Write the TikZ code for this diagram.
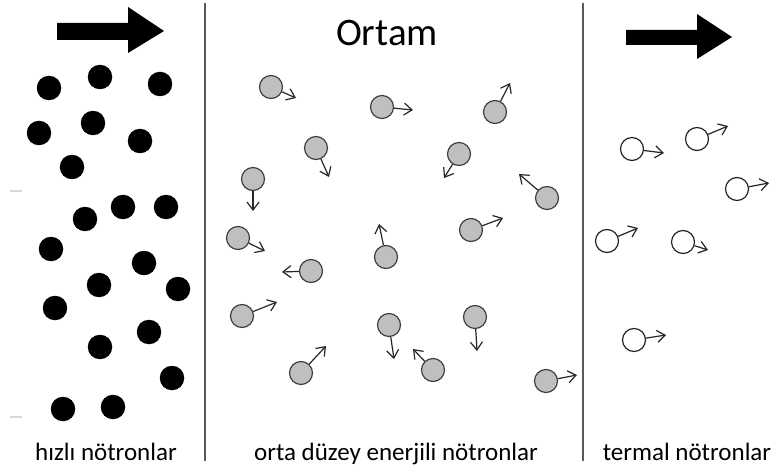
\documentclass[tikz,border=0pt]{standalone}
\usepackage{fontspec}
\setmainfont{Carlito}
\usepackage{tikz}
\usetikzlibrary{arrows.meta}

\begin{document}
\begin{tikzpicture}[x=1pt, y=-1pt,
    fast/.style={circle, fill=black, minimum size=24.5pt, inner sep=0pt},
    mid/.style={circle, draw=black!75, fill=black!25, line width=1.2pt,
        minimum size=23pt, inner sep=0pt},
    therm/.style={circle, draw=black!85, fill=white, line width=1.2pt,
        minimum size=23pt, inner sep=0pt},
    move/.style={-{Straight Barb[length=8pt,width=12pt]}, line width=1.2pt, black!85},
    wall/.style={draw=black!65, line width=2pt},
    lbl/.style={font=\fontsize{25}{30}\selectfont, anchor=base}]
\fill [white] (0,0) rectangle (776,473);
\useasboundingbox (0,0) rectangle (776,473);
% walls
\draw [wall] (205,3) -- (205,461);
\draw [wall] (583,3) -- (583,461);
\draw [black!15, line width=1.5pt] (10,191) -- (22,191);
\draw [black!15, line width=1.5pt] (10,417) -- (22,417);
% big arrows
\fill (57,23) -- (128,23) -- (128,7) -- (164,31) -- (128,53) -- (128,40)
    -- (57,40) -- cycle;
\fill (626,30) -- (697,30) -- (697,14) -- (732,37) -- (697,59) -- (697,45)
    -- (626,45) -- cycle;
\node [lbl, font=\fontsize{39}{46}\selectfont] (title) at (387,46) {Ortam};
% fast neutrons
\node [fast] (f1) at (49,88){};
\node [fast] (f2) at (100,77){};
\node [fast] (f3) at (160,84){};
\node [fast] (f4) at (39,133){};
\node [fast] (f5) at (93,123){};
\node [fast] (f6) at (140,141){};
\node [fast] (f7) at (72,167){};
\node [fast] (f8) at (123,207){};
\node [fast] (f9) at (166,207){};
\node [fast] (f10) at (85,219){};
\node [fast] (f11) at (51,249){};
\node [fast] (f12) at (144,263){};
\node [fast] (f13) at (99,285){};
\node [fast] (f14) at (178,289){};
\node [fast] (f15) at (55,308){};
\node [fast] (f16) at (149,332){};
\node [fast] (f17) at (100,347){};
\node [fast] (f18) at (172,378){};
\node [fast] (f19) at (63,409){};
\node [fast] (f20) at (113,407){};
% intermediate neutrons
\node [mid] (m1) at (271,87){};
\node [mid] (m2) at (382,107){};
\node [mid] (m3) at (495,112){};
\node [mid] (m4) at (316,148){};
\node [mid] (m5) at (459,154){};
\node [mid] (m6) at (253,179){};
\node [mid] (m7) at (547,198){};
\node [mid] (m8) at (471,230){};
\node [mid] (m9) at (238,238){};
\node [mid] (m10) at (386,257){};
\node [mid] (m11) at (311,271){};
\node [mid] (m12) at (242,316){};
\node [mid] (m13) at (389,325){};
\node [mid] (m14) at (475,317){};
\node [mid] (m15) at (301,373){};
\node [mid] (m16) at (433,370){};
\node [mid] (m17) at (546,381){};
\coordinate (m1d) at (296,98);
\coordinate (m2d) at (413,110);
\coordinate (m3d) at (510,83);
\coordinate (m4d) at (329,177);
\coordinate (m5d) at (444,178);
\coordinate (m6d) at (253,211);
\coordinate (m7d) at (519,174);
\coordinate (m8d) at (503,218);
\coordinate (m9d) at (265,251);
\coordinate (m10d) at (379,224);
\coordinate (m11d) at (282,272);
\coordinate (m12d) at (277,302);
\coordinate (m13d) at (394,359);
\coordinate (m14d) at (477,351);
\coordinate (m15d) at (326,346);
\coordinate (m16d) at (413,349);
\coordinate (m17d) at (577,375);
\draw [move] (m1) -- (m1d);
\draw [move] (m2) -- (m2d);
\draw [move] (m3) -- (m3d);
\draw [move] (m4) -- (m4d);
\draw [move] (m5) -- (m5d);
\draw [move] (m6) -- (m6d);
\draw [move] (m7) -- (m7d);
\draw [move] (m8) -- (m8d);
\draw [move] (m9) -- (m9d);
\draw [move] (m10) -- (m10d);
\draw [move] (m11) -- (m11d);
\draw [move] (m12) -- (m12d);
\draw [move] (m13) -- (m13d);
\draw [move] (m14) -- (m14d);
\draw [move] (m15) -- (m15d);
\draw [move] (m16) -- (m16d);
\draw [move] (m17) -- (m17d);
% thermal neutrons
\node [therm] (t1) at (632,149){};
\node [therm] (t2) at (697,139){};
\node [therm] (t3) at (737,189){};
\node [therm] (t4) at (607,241){};
\node [therm] (t5) at (683,242){};
\node [therm] (t6) at (634,340){};
\coordinate (t1d) at (664,153);
\coordinate (t2d) at (728,126);
\coordinate (t3d) at (769,183);
\coordinate (t4d) at (638,228);
\coordinate (t5d) at (708,250);
\coordinate (t6d) at (666,335);
\draw [move] (t1) -- (t1d);
\draw [move] (t2) -- (t2d);
\draw [move] (t3) -- (t3d);
\draw [move] (t4) -- (t4d);
\draw [move] (t5) -- (t5d);
\draw [move] (t6) -- (t6d);
% labels
\node [lbl] (fastlbl) at (106,460) {hızlı nötronlar};
\node [lbl] (midlbl) at (396,460) {orta düzey enerjili nötronlar};
\node [lbl] (thermlbl) at (687,460) {termal nötronlar};
\end{tikzpicture}
\end{document}
